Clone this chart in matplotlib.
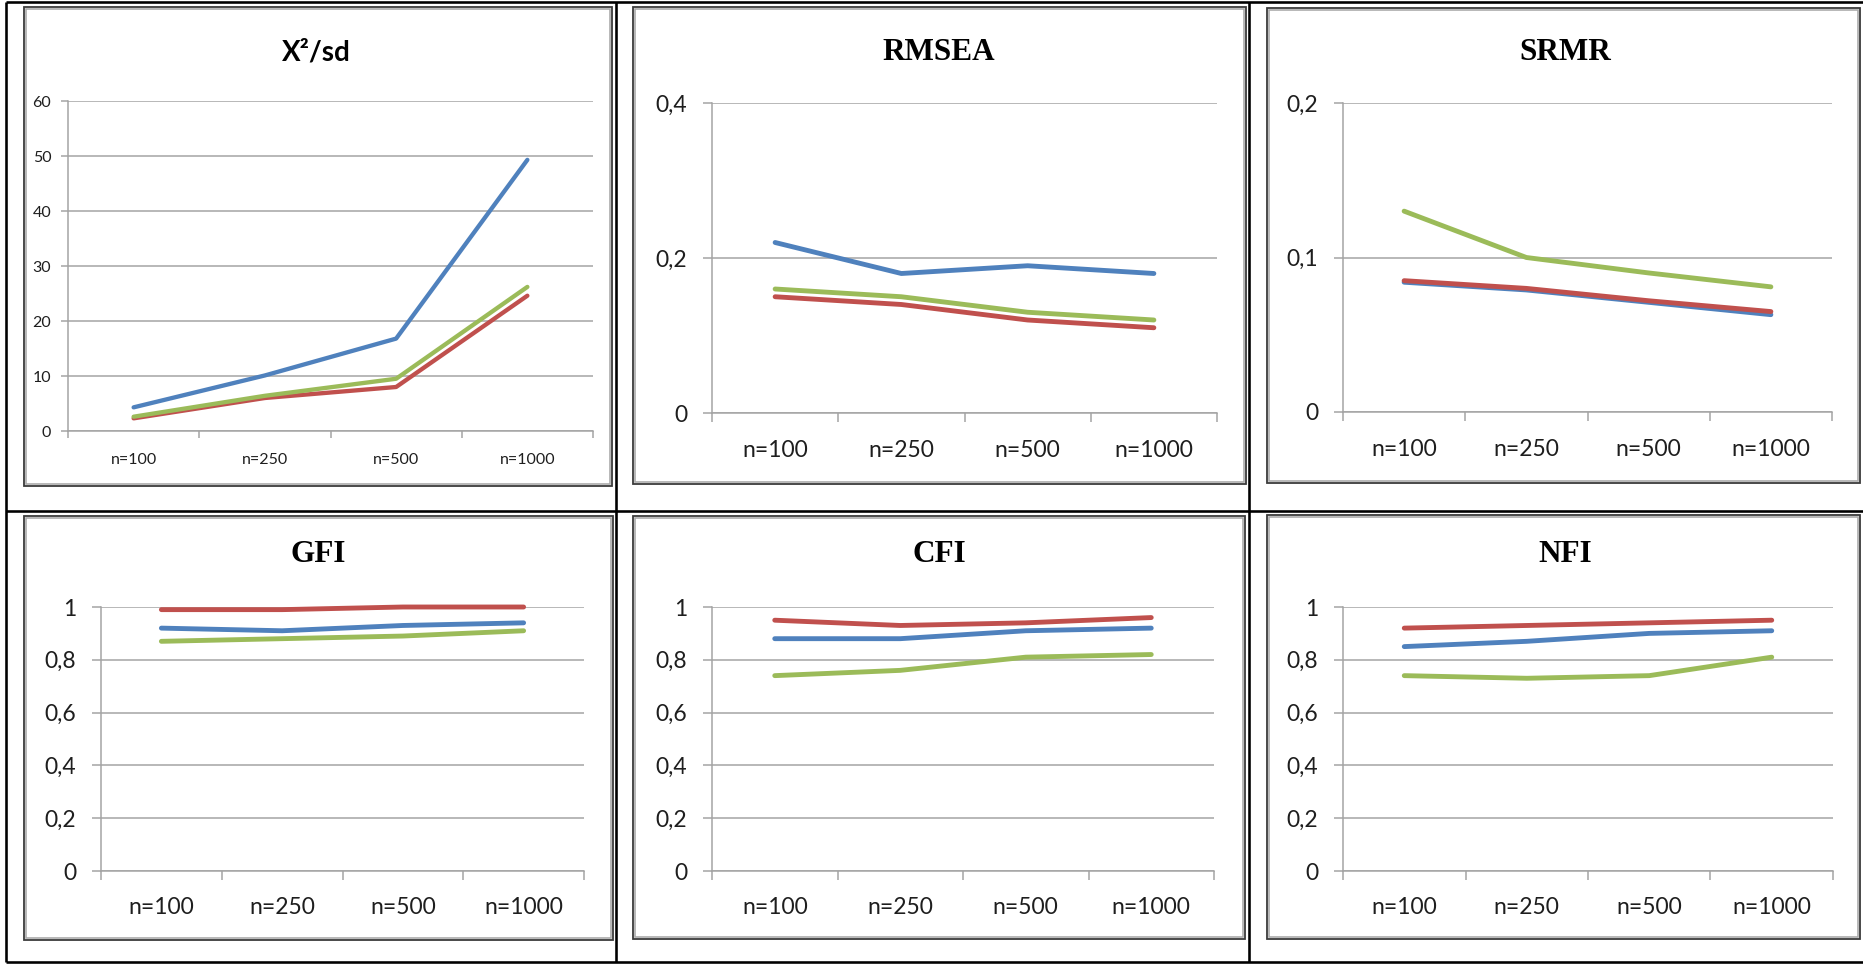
import matplotlib
matplotlib.use('Agg')
import matplotlib.pyplot as plt
from matplotlib.patches import Rectangle
from matplotlib.lines import Line2D

W, H = 1863, 965
DPI = 100

categories = ['n=100', 'n=250', 'n=500', 'n=1000']

chi_blue = [4.3, 10.1, 16.8, 49.3]
chi_red = [2.3, 6.0, 8.0, 24.6]
chi_green = [2.6, 6.4, 9.5, 26.2]

rmsea_blue = [0.22, 0.18, 0.19, 0.18]
rmsea_red = [0.15, 0.14, 0.12, 0.11]
rmsea_green = [0.16, 0.15, 0.13, 0.12]

srmr_blue = [0.084, 0.079, 0.071, 0.063]
srmr_red = [0.085, 0.080, 0.072, 0.065]
srmr_green = [0.130, 0.100, 0.090, 0.081]

gfi_blue = [0.92, 0.91, 0.93, 0.94]
gfi_red = [0.99, 0.99, 1.00, 1.00]
gfi_green = [0.87, 0.88, 0.89, 0.91]

cfi_blue = [0.88, 0.88, 0.91, 0.92]
cfi_red = [0.95, 0.93, 0.94, 0.96]
cfi_green = [0.74, 0.76, 0.81, 0.82]

nfi_blue = [0.85, 0.87, 0.90, 0.91]
nfi_red = [0.92, 0.93, 0.94, 0.95]
nfi_green = [0.74, 0.73, 0.74, 0.81]

chi_ticks = [0, 10, 20, 30, 40, 50, 60]
chi_labels = ['0', '10', '20', '30', '40', '50', '60']
rmsea_ticks = [0, 0.2, 0.4]
rmsea_labels = ['0', '0,2', '0,4']
srmr_ticks = [0, 0.1, 0.2]
srmr_labels = ['0', '0,1', '0,2']
idx_ticks = [0, 0.2, 0.4, 0.6, 0.8, 1.0]
idx_labels = ['0', '0,2', '0,4', '0,6', '0,8', '1']

titles = ['X\u00b2/sd', 'RMSEA', 'SRMR', 'GFI', 'CFI', 'NFI']

BLUE = '#4F81BD'
RED = '#C0504D'
GREEN = '#9BBB59'
GRID = '#a3a3a3'
TXT = '#1e1e1e'

fig = plt.figure(figsize=(W / DPI, H / DPI), dpi=DPI)
fig.patch.set_facecolor('white')

# background overlay in pixel coordinates
bg = fig.add_axes([0, 0, 1, 1], zorder=0)
bg.set_xlim(0, W)
bg.set_ylim(H, 0)
bg.axis('off')

PX = 0.72  # points per pixel at dpi 100

# table grid lines
tl = 2.6 * PX
for (x0, y0, x1, y1) in [(6, 2, 1863, 2), (6, 962, 1863, 962), (6, 2, 6, 962),
                         (616, 2, 616, 962), (1249, 2, 1249, 962), (6, 511, 1863, 511)]:
    bg.add_line(Line2D([x0, x1], [y0, y1], color='black', lw=tl, solid_capstyle='butt'))

# chart boxes
boxes = [(24, 7, 612, 486), (633, 7, 1246, 484), (1267, 8, 1860, 483),
         (24, 516, 613, 940), (633, 516, 1245, 939), (1267, 515, 1860, 939)]
for (x0, y0, x1, y1) in boxes:
    bg.add_patch(Rectangle((x0, y0), x1 - x0, y1 - y0, fill=False,
                           edgecolor='#3a3a3a', lw=1.8 * PX))
    bg.add_patch(Rectangle((x0 + 2, y0 + 2), x1 - x0 - 4, y1 - y0 - 4, fill=False,
                           edgecolor='#a8a8a8', lw=1.6 * PX))

title_pos = [(316, 53), (939, 52), (1565, 52), (318, 555), (939, 555), (1565, 555)]

axes_px = [(68, 101, 593, 431), (712, 103, 1217, 413), (1343, 103, 1832, 412),
           (101, 607, 584, 871), (712, 607, 1214, 871), (1343, 607, 1833, 871)]

series = [
    (chi_blue, chi_red, chi_green, chi_ticks, chi_labels),
    (rmsea_blue, rmsea_red, rmsea_green, rmsea_ticks, rmsea_labels),
    (srmr_blue, srmr_red, srmr_green, srmr_ticks, srmr_labels),
    (gfi_blue, gfi_red, gfi_green, idx_ticks, idx_labels),
    (cfi_blue, cfi_red, cfi_green, idx_ticks, idx_labels),
    (nfi_blue, nfi_red, nfi_green, idx_ticks, idx_labels),
]

xs = [i + 0.5 for i in range(len(categories))]

for k, ((x0, y0, x1, y1), (b, r, g, yt, yl)) in enumerate(zip(axes_px, series)):
    ax = fig.add_axes([x0 / W, 1 - y1 / H, (x1 - x0) / W, (y1 - y0) / H], zorder=2)
    ax.set_facecolor('none')
    small = (k == 0)
    lw = (3.1 if small else 3.5)
    for vals, col in [(b, BLUE), (r, RED), (g, GREEN)]:
        ax.plot(xs, vals, color=col, lw=lw, solid_capstyle='round',
                solid_joinstyle='round', clip_on=False, zorder=3)
    ax.set_xlim(0, len(categories))
    ax.set_ylim(yt[0], yt[-1])
    ax.set_yticks(yt)
    ax.set_yticklabels(yl)
    ax.set_xticks(range(len(categories) + 1))
    ax.set_xticklabels([])
    ax.set_xticks(xs, minor=True)
    ax.set_xticklabels(categories, minor=True)
    for s in ['top', 'right']:
        ax.spines[s].set_visible(False)
    for s in ['left', 'bottom']:
        ax.spines[s].set_color(GRID)
        ax.spines[s].set_linewidth(1.5 * PX)
    ax.yaxis.grid(True, color=GRID, lw=1.5 * PX)
    ax.set_axisbelow(True)
    fs = 11.5 if small else 16.5
    ypad = 7 if small else 11.5
    xpad = 11 if small else (13 if k < 3 else 12)
    tlen = 7 * PX if small else 9 * PX
    ax.tick_params(axis='y', which='major', length=tlen, width=1.5 * PX, color=GRID,
                   labelsize=fs, labelcolor=TXT, pad=ypad)
    ax.tick_params(axis='x', which='major', length=tlen, width=1.5 * PX, color=GRID)
    ax.tick_params(axis='x', which='minor', length=0, labelsize=fs, labelcolor=TXT,
                   pad=xpad + tlen)
    for lab in ax.get_yticklabels() + ax.get_xticklabels(minor=True):
        lab.set_fontfamily('Lato')

    tx, ty = title_pos[k]
    if k == 0:
        fig.text(tx / W, 1 - ty / H, titles[k], ha='center', va='center',
                 fontsize=20, fontweight='bold', family='Lato', color='black')
    else:
        fig.text(tx / W, 1 - ty / H, titles[k], ha='center', va='center',
                 fontsize=22.5, fontweight='bold', family='Liberation Serif', color='black')

fig.savefig('out.png', dpi=DPI, facecolor='white')
